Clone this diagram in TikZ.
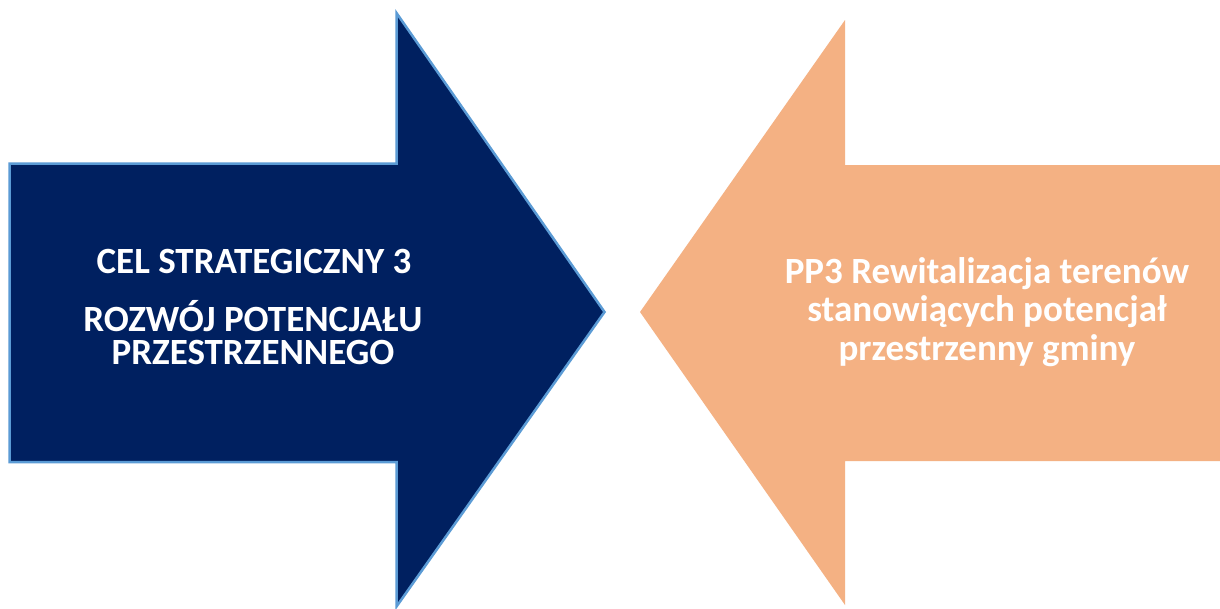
\documentclass[tikz,border=0pt]{standalone}
\usepackage{fontspec}
\setmainfont{Carlito}
\definecolor{navy}{RGB}{0,32,96}
\definecolor{edgeblue}{RGB}{91,155,213}
\definecolor{peach}{RGB}{244,177,131}
\tikzset{
  lbl/.style={text=white, font=\fontsize{37}{44}\selectfont\bfseries, inner sep=0pt, anchor=base},
  navyarrow/.style={fill=navy, draw=edgeblue, line width=2.5pt, line join=miter},
  peacharrow/.style={fill=peach, draw=none}
}
\begin{document}
\begin{tikzpicture}[x=1pt,y=-1pt]
\useasboundingbox (0,0) rectangle (1220,608);
\fill[white] (0,0) rectangle (1220,608);
\draw[navyarrow] (9.5,163.5) -- (396.5,163.5) -- (396.5,13) -- (604.5,312) -- (396.5,606.5) -- (396.5,462) -- (9.5,462) -- cycle;
\fill[peacharrow] (1220,165) -- (845,165) -- (845,20) -- (640,312) -- (845,605) -- (845,461) -- (1220,461) -- cycle;
\node[lbl] (l1) at (254,273) {CEL STRATEGICZNY 3};
\node[lbl] (l2) at (253,331) {ROZWÓJ POTENCJAŁU};
\node[lbl] (l3) at (253,364.5) {PRZESTRZENNEGO};
\node[lbl] (r1) at (987,283) {PP3 Rewitalizacja terenów};
\node[lbl] (r2) at (987,321.5) {stanowiących potencjał};
\node[lbl] (r3) at (987,360) {przestrzenny gminy};
\end{tikzpicture}
\end{document}
